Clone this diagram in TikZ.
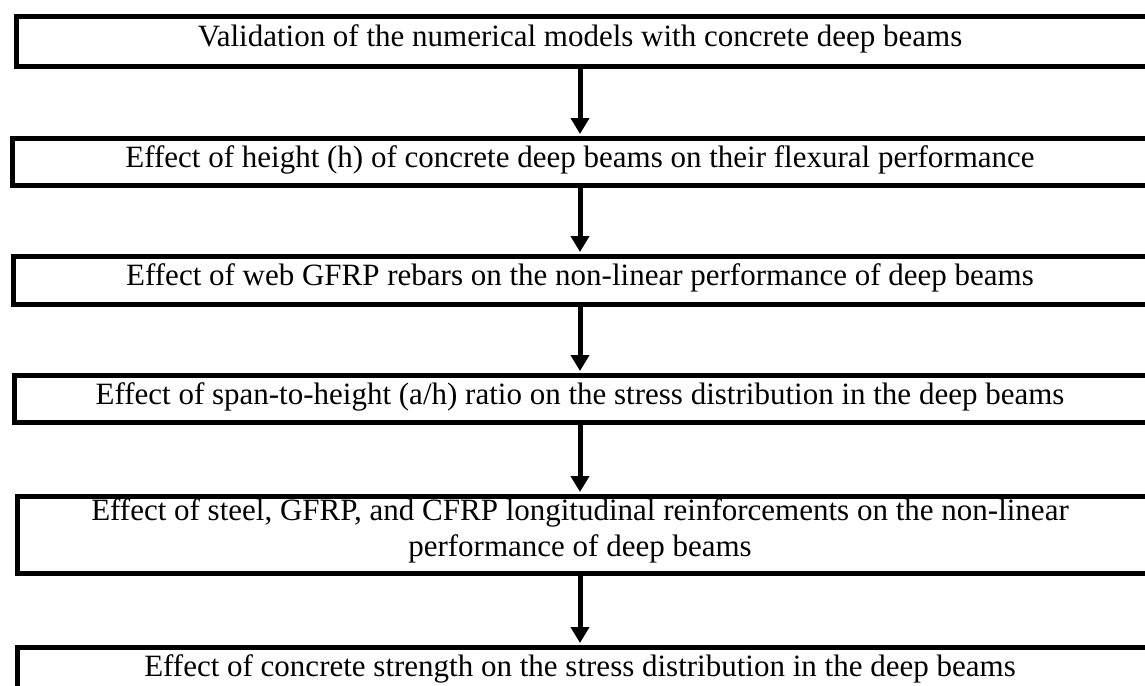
\documentclass[tikz,border=0pt]{standalone}
\usepackage{fontspec}
\setmainfont{Liberation Serif}
\usetikzlibrary{arrows.meta}
\begin{document}
\begin{tikzpicture}[x=1pt,y=-1pt,
  box/.style={draw=black, line width=5pt, inner sep=0pt, anchor=north west, minimum width=1200pt},
  lbl/.style={inner sep=0pt, align=center, font=\fontsize{31}{36}\selectfont},
  flow/.style={line width=5pt, shorten >=2pt, -{Triangle[length=16pt,width=18pt]}}]
\useasboundingbox (0,0) rectangle (1145,685);
\node[box, minimum height=50pt] (b1) at (14,14) {};
\node[box, minimum height=47pt] (b2) at (10,136) {};
\node[box, minimum height=48pt] (b3) at (11,254) {};
\node[box, minimum height=47pt] (b4) at (12,373) {};
\node[box, minimum height=77pt] (b5) at (15,494) {};
\node[box, minimum height=47pt] (b6) at (15,645) {};
\node[lbl] (t1) at (580,39) {Validation of the numerical models with concrete deep beams};
\node[lbl] (t2) at (580,159.5) {Effect of height (h) of concrete deep beams on their flexural performance};
\node[lbl] (t3) at (580,278) {Effect of web GFRP rebars on the non-linear performance of deep beams};
\node[lbl] (t4) at (580,396.5) {Effect of span-to-height (a/h) ratio on the stress distribution in the deep beams};
\node[lbl] (t5) at (580,531) {Effect of steel, GFRP, and CFRP longitudinal reinforcements on the non-linear\\performance of deep beams};
\node[lbl] (t6) at (580,668.5) {Effect of concrete strength on the stress distribution in the deep beams};
\draw[flow] (t1 |- b1.south) -- (t2 |- b2.north);
\draw[flow] (t2 |- b2.south) -- (t3 |- b3.north);
\draw[flow] (t3 |- b3.south) -- (t4 |- b4.north);
\draw[flow] (t4 |- b4.south) -- (t5 |- b5.north);
\draw[flow] (t5 |- b5.south) -- (t6 |- b6.north);
\end{tikzpicture}
\end{document}
